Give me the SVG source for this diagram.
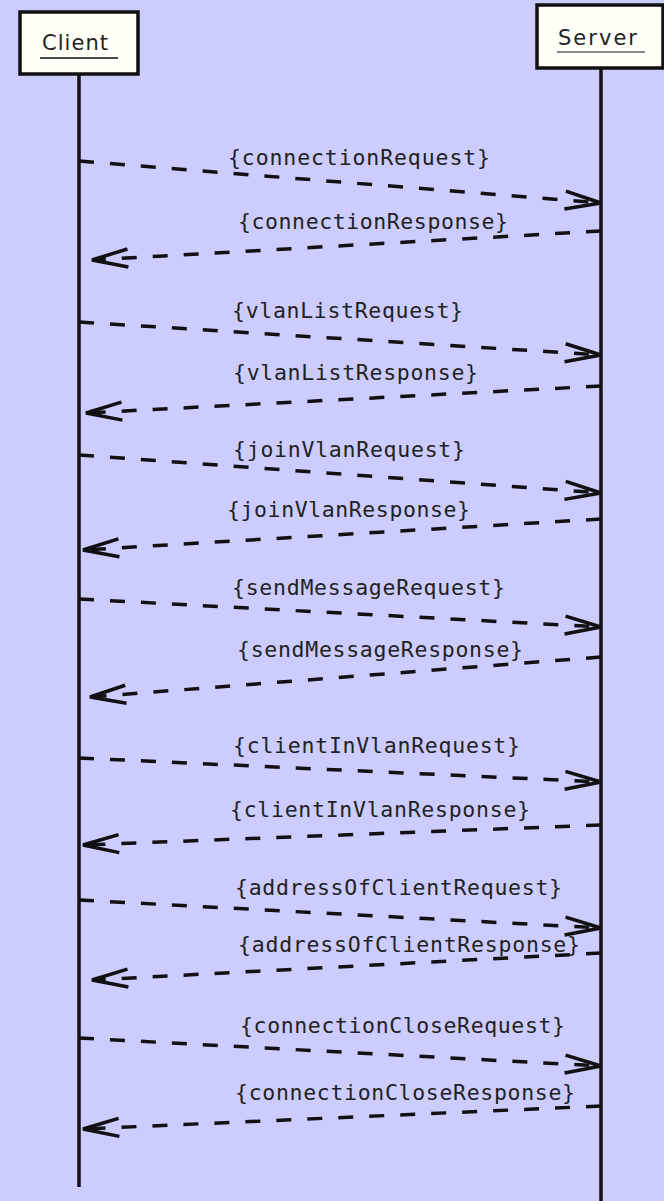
<svg xmlns="http://www.w3.org/2000/svg" width="664" height="1201" viewBox="0 0 664 1201">
  <style>
    .bg { fill: #ccccff; }
    .box { fill: #fffff8; stroke: #111; stroke-width: 3.5; }
    .name { font-family: "DejaVu Sans", "Liberation Sans", sans-serif; font-size: 21px; fill: #222; }
    .life { stroke: #111; stroke-width: 3.5; fill: none; }
    .msg { stroke: #111; stroke-width: 3.5; stroke-dasharray: 15 16; fill: none; marker-end: url(#open); }
    .lbl { font-family: "DejaVu Sans Mono", "Liberation Mono", monospace; font-size: 21.5px; fill: #222; }
  </style>
  <defs>
    <marker id="open" markerUnits="userSpaceOnUse" markerWidth="44" markerHeight="24" viewBox="-40 -12 44 24" refX="0" refY="0" orient="auto" overflow="visible">
      <path d="M -36 -9 L 0 0 L -36 9" fill="none" stroke="#111" stroke-width="3.5" stroke-dasharray="none"/>
    </marker>
  </defs>

  <rect class="bg" x="0" y="0" width="664" height="1201"/>

  <!-- lifelines -->
  <g id="lifelines">
    <line class="life" x1="79" y1="74" x2="79" y2="1187"/>
    <line class="life" x1="601" y1="68" x2="601" y2="1201"/>
  </g>

  <g id="client">
    <rect class="box" x="20" y="12" width="118" height="62"/>
    <text class="name" x="42" y="50" textLength="66">Client</text>
    <line x1="40" y1="58" x2="118" y2="58" stroke="#111" stroke-width="1.6"/>
  </g>

  <g id="server">
    <rect class="box" x="537" y="5" width="126" height="63"/>
    <text class="name" x="558" y="45" textLength="79">Server</text>
    <line x1="557" y1="52" x2="645" y2="52" stroke="#888" stroke-width="2"/>
  </g>

  <!-- messages -->
  <g id="connectors">
    <line class="msg" x1="79" y1="161" x2="601" y2="203"/>
    <line class="msg" x1="601" y1="231" x2="92" y2="260"/>
    <line class="msg" x1="79" y1="322" x2="601" y2="355"/>
    <line class="msg" x1="601" y1="386" x2="86" y2="413"/>
    <line class="msg" x1="79" y1="455" x2="601" y2="493"/>
    <line class="msg" x1="601" y1="519" x2="83" y2="550"/>
    <line class="msg" x1="79" y1="599" x2="601" y2="627"/>
    <line class="msg" x1="601" y1="657" x2="90" y2="697"/>
    <line class="msg" x1="79" y1="758" x2="601" y2="782"/>
    <line class="msg" x1="601" y1="825" x2="83" y2="845"/>
    <line class="msg" x1="79" y1="900" x2="601" y2="928"/>
    <line class="msg" x1="601" y1="953" x2="92" y2="980"/>
    <line class="msg" x1="79" y1="1038" x2="601" y2="1066"/>
    <line class="msg" x1="601" y1="1106" x2="83" y2="1129"/>
  </g>

  <g id="labels">
    <text class="lbl" x="228" y="165" textLength="262">{connectionRequest}</text>
    <text class="lbl" x="238" y="229" textLength="270">{connectionResponse}</text>
    <text class="lbl" x="232" y="318" textLength="231">{vlanListRequest}</text>
    <text class="lbl" x="233" y="380" textLength="245">{vlanListResponse}</text>
    <text class="lbl" x="233" y="457" textLength="232">{joinVlanRequest}</text>
    <text class="lbl" x="227" y="517" textLength="243">{joinVlanResponse}</text>
    <text class="lbl" x="232" y="595" textLength="273">{sendMessageRequest}</text>
    <text class="lbl" x="237" y="657" textLength="286">{sendMessageResponse}</text>
    <text class="lbl" x="233" y="753" textLength="287">{clientInVlanRequest}</text>
    <text class="lbl" x="230" y="817" textLength="300">{clientInVlanResponse}</text>
    <text class="lbl" x="235" y="895" textLength="327">{addressOfClientRequest}</text>
    <text class="lbl" x="238" y="952" textLength="342">{addressOfClientResponse}</text>
    <text class="lbl" x="240" y="1033" textLength="325">{connectionCloseRequest}</text>
    <text class="lbl" x="235" y="1100" textLength="340">{connectionCloseResponse}</text>
  </g>
</svg>
